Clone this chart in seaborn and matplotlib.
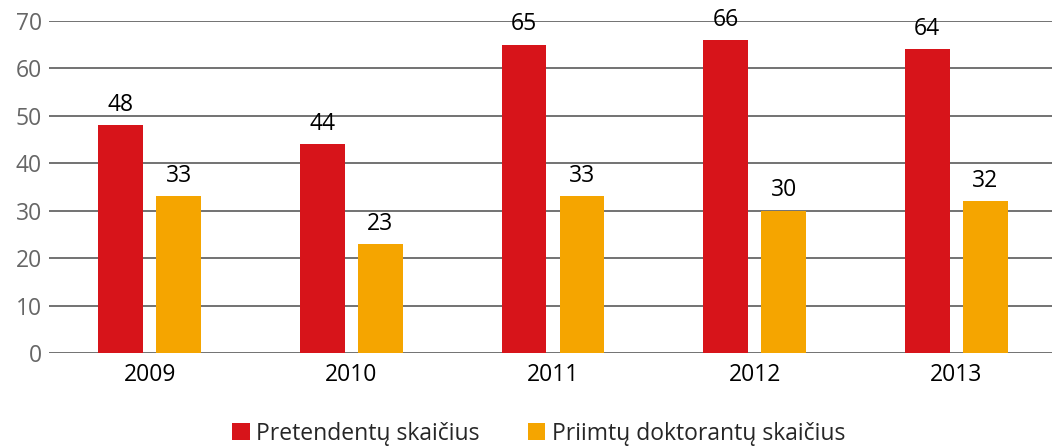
import pandas as pd
import matplotlib.pyplot as plt
import seaborn as sns

# data
years = ["2009", "2010", "2011", "2012", "2013"]
pretendentai = [48, 44, 65, 66, 64]
priimti = [33, 23, 33, 30, 32]
series_names = ["Pretendentų skaičius", "Priimtų doktorantų skaičius"]
colors = ["#D7141A", "#F5A500"]

df = pd.DataFrame({
    "Metai": years * 2,
    "Reikšmė": pretendentai + priimti,
    "Serija": [series_names[0]] * len(years) + [series_names[1]] * len(years),
})

sns.set_theme(style="white")
plt.rcParams['font.family'] = ['Open Sans', 'DejaVu Sans']

fig = plt.figure(figsize=(10.52, 4.48), dpi=100)
ax = fig.add_axes([49 / 1052, 95 / 448, 1008 / 1052, 332 / 448])

sns.barplot(data=df, x="Metai", y="Reikšmė", hue="Serija", palette=colors,
            saturation=1, linewidth=0, width=0.576, gap=0.226, ax=ax, legend=True)

fs = 16.5
for cont in ax.containers:
    ax.bar_label(cont, padding=6, fontsize=fs, color="black")

ax.set_ylim(0, 70)
ax.set_xlim(-0.5, 4.5)
ax.set_yticks(range(0, 71, 10))
ax.yaxis.grid(True, color="#5a5a5a", linewidth=1.2)
ax.set_axisbelow(True)
for s in ax.spines.values():
    s.set_visible(False)
ax.tick_params(axis="y", labelsize=fs, labelcolor="#666666", length=0, pad=5)
ax.tick_params(axis="x", labelsize=fs, labelcolor="black", length=0, pad=7)
ax.set_xlabel("")
ax.set_ylabel("")

ax.legend(loc="upper center", bbox_to_anchor=(0.5 - 14 / 1008, -0.145), ncol=2,
          frameon=False, fontsize=fs, handlelength=0.75, handleheight=0.75,
          handletextpad=0.3, columnspacing=2.1)

plt.savefig("out.png", dpi=100)
